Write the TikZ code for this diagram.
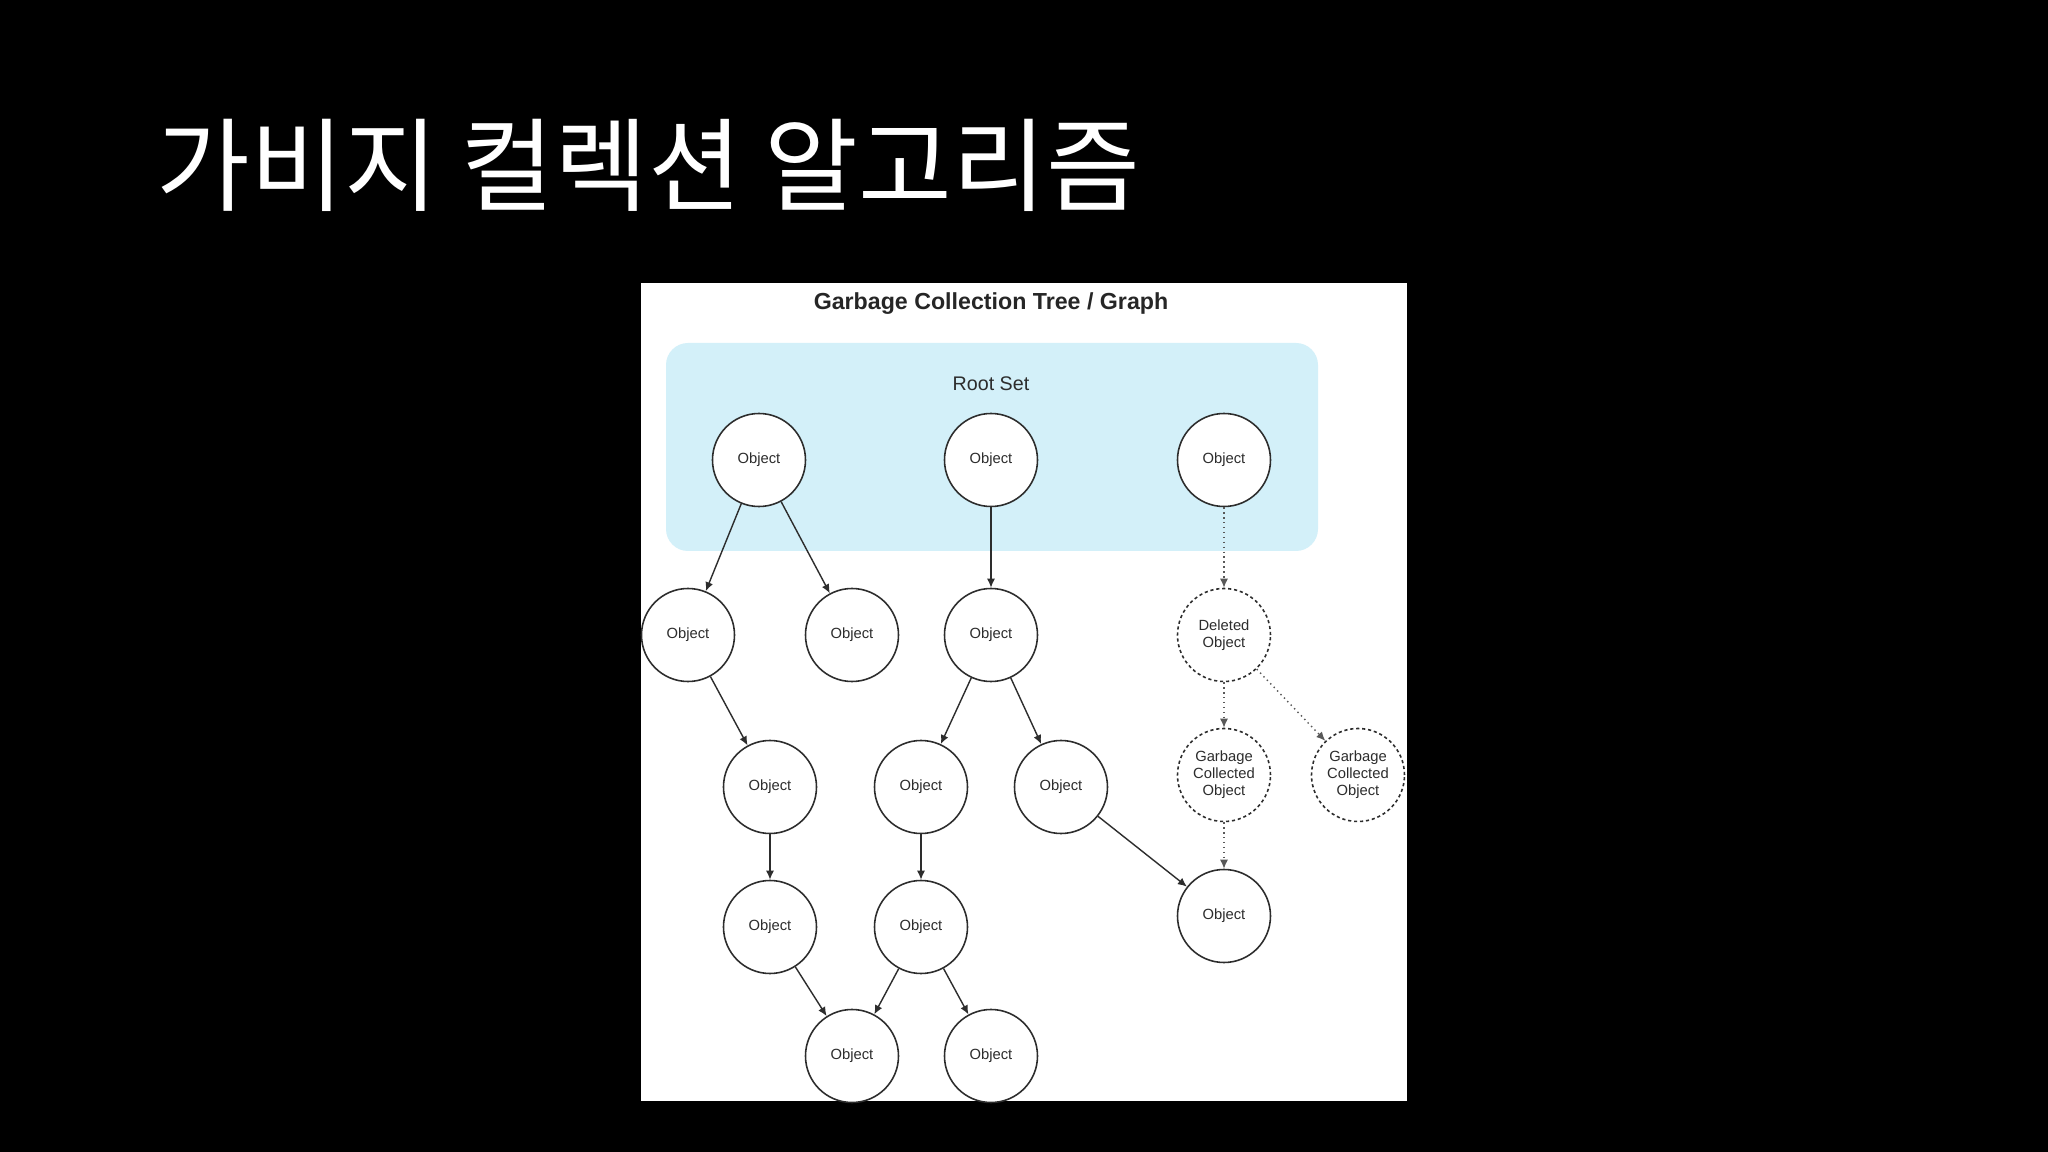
\documentclass[tikz,border=0pt]{standalone}
\usepackage{fontspec}
\setmainfont{Liberation Sans}
\newfontfamily\krfont{Noto Sans CJK KR}
\usepackage{xcolor}
\usetikzlibrary{arrows.meta,positioning}
\definecolor{rootblue}{RGB}{211,240,249}
\definecolor{inkgray}{RGB}{45,45,45}
\tikzset{
  obj/.style={draw=inkgray, circle, fill=white, line width=0.45pt, minimum size=0.93cm, inner sep=0pt, align=center, text=inkgray, font=\fontsize{4.2}{4.8}\selectfont},
  gone/.style={obj, dash pattern=on 0.9pt off 0.8pt},
  link/.style={-{Latex[length=0.9mm,width=0.8mm]}, line width=0.4pt, draw=inkgray},
  deadlink/.style={link, densely dotted, draw=gray!70!black},
  heading/.style={text=white, inner sep=0pt, font=\krfont\fontsize{29}{31}\selectfont},
}

\begin{document}
\begin{tikzpicture}[x=1cm, y=-1cm]
\fill[black] (0,0) rectangle (20.48,11.52);
\useasboundingbox (0,0) rectangle (20.48,11.52);

\node[heading, anchor=base west] (slide) at (1.56,2.04) {가비지 컬렉션 알고리즘};

% panel + root set
\fill[white] (6.41,2.83) rectangle (14.07,11.01);
\node[font=\bfseries\fontsize{6.6}{8}\selectfont, text=black!85] (title) at (9.91,3.04) {Garbage Collection Tree / Graph};
\fill[rootblue, rounded corners=0.22cm] (6.66,3.43) rectangle (13.18,5.51);
\node[font=\fontsize{5.6}{7}\selectfont, text=inkgray] (rootset) at (9.91,3.84) {Root Set};

% roots
\node[obj] (r1) at (7.59,4.60) {Object};
\node[obj] (r2) at (9.91,4.60) {Object};
\node[obj] (r3) at (12.24,4.60) {Object};

% reachable objects
\node[obj] (a) at (6.88,6.35) {Object};
\node[obj] (b) at (8.52,6.35) {Object};
\node[obj] (c) at (9.91,6.35) {Object};
\node[obj] (e) at (7.70,7.87) {Object};
\node[obj] (f) at (9.21,7.87) {Object};
\node[obj] (g) at (10.61,7.87) {Object};
\node[obj] (j) at (7.70,9.27) {Object};
\node[obj] (k) at (9.21,9.27) {Object};
\node[obj] (l) at (12.24,9.16) {Object};
\node[obj] (m) at (8.52,10.56) {Object};
\node[obj] (n) at (9.91,10.56) {Object};

% unreachable
\node[gone] (del) at (12.24,6.35) {Deleted\\Object};
\node[gone] (gc1) at (12.24,7.75) {Garbage\\Collected\\Object};
\node[gone] (gc2) at (13.58,7.75) {Garbage\\Collected\\Object};

\draw[link] (r1) -- (a);
\draw[link] (r1) -- (b);
\draw[link] (r2) -- (c);
\draw[link] (a) -- (e);
\draw[link] (c) -- (f);
\draw[link] (c) -- (g);
\draw[link] (e) -- (j);
\draw[link] (f) -- (k);
\draw[link] (g) -- (l);
\draw[link] (j) -- (m);
\draw[link] (k) -- (m);
\draw[link] (k) -- (n);

\draw[deadlink] (r3) -- (del);
\draw[deadlink] (del) -- (gc1);
\draw[deadlink] (del) -- (gc2);
\draw[deadlink] (gc1) -- (l);
\end{tikzpicture}
\end{document}
